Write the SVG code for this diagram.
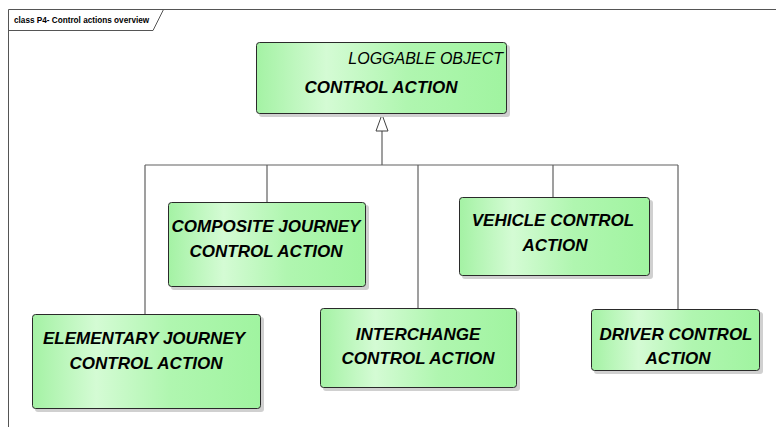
<svg xmlns="http://www.w3.org/2000/svg" width="776" height="427" viewBox="0 0 776 427">
<style>
.frame{fill:none;stroke:#555;stroke-width:1}
.conn{fill:none;stroke:#606060;stroke-width:1.2}
.box{fill:url(#g);stroke:#2a2a2a;stroke-width:1}
.shadow{fill:#d0d0d0}
.t{font-family:"Liberation Sans",Arial,sans-serif;font-size:17px;font-weight:bold;font-style:italic;fill:#000;text-anchor:middle}
.st{font-family:"Liberation Sans",Arial,sans-serif;font-size:16px;font-style:italic;fill:#000;text-anchor:end}
.hd{font-family:"Liberation Sans",Arial,sans-serif;font-size:8.2px;font-weight:bold;fill:#000}
</style>
<defs>
<linearGradient id="g" x1="0" y1="0" x2="1" y2="0">
<stop offset="0" stop-color="#a4f2a4"/>
<stop offset="0.28" stop-color="#d4fbd4"/>
<stop offset="0.6" stop-color="#b0f6b0"/>
<stop offset="1" stop-color="#a0f4a0"/>
</linearGradient>
</defs>
<rect width="776" height="427" fill="#fff"/>
<g id="frame">
<path class="frame" d="M8.5,427 V9.5 H776"/>
<path class="frame" d="M8.5,30.5 H153 L163.5,9.5"/>
<text class="hd" x="14" y="23">class P4- Control actions overview</text>
</g>
<g id="connectors">
<path class="conn" d="M382,131 V165 M145,165 H678 M145,165 V314 M267,165 V202 M418,165 V308 M553,165 V197 M678,165 V309"/>
<polygon points="382,114.5 376,131 388,131" fill="#fff" stroke="#404040" stroke-width="1"/>
</g>
<g id="control-action">
<rect class="shadow" x="259" y="45" width="251" height="72" rx="3"/>
<rect class="box" x="256.5" y="42.5" width="250" height="71" rx="3"/>
<text class="st" x="503" y="64">LOGGABLE OBJECT</text>
<text class="t" x="381" y="93">CONTROL ACTION</text>
</g>
<g id="composite-journey-control-action">
<rect class="shadow" x="171" y="205" width="198" height="85" rx="3"/>
<rect class="box" x="168.5" y="202.5" width="197" height="84" rx="3"/>
<text class="t" x="266" y="232">COMPOSITE JOURNEY</text>
<text class="t" x="266" y="257">CONTROL ACTION</text>
</g>
<g id="vehicle-control-action">
<rect class="shadow" x="462" y="200" width="191" height="79" rx="3"/>
<rect class="box" x="459.5" y="197.5" width="190" height="78" rx="3"/>
<text class="t" x="553" y="226">VEHICLE CONTROL</text>
<text class="t" x="555" y="251">ACTION</text>
</g>
<g id="elementary-journey-control-action">
<rect class="shadow" x="35" y="317" width="229" height="95" rx="3"/>
<rect class="box" x="32.5" y="314.5" width="228" height="94" rx="3"/>
<text class="t" x="144" y="344">ELEMENTARY JOURNEY</text>
<text class="t" x="146" y="369">CONTROL ACTION</text>
</g>
<g id="interchange-control-action">
<rect class="shadow" x="323" y="311" width="197" height="80" rx="3"/>
<rect class="box" x="320.5" y="308.5" width="196" height="79" rx="3"/>
<text class="t" x="418" y="340">INTERCHANGE</text>
<text class="t" x="418" y="364">CONTROL ACTION</text>
</g>
<g id="driver-control-action">
<rect class="shadow" x="594" y="312" width="169" height="62" rx="3"/>
<rect class="box" x="591.5" y="309.5" width="168" height="61" rx="3"/>
<text class="t" x="676" y="340">DRIVER CONTROL</text>
<text class="t" x="678" y="364">ACTION</text>
</g>
</svg>
